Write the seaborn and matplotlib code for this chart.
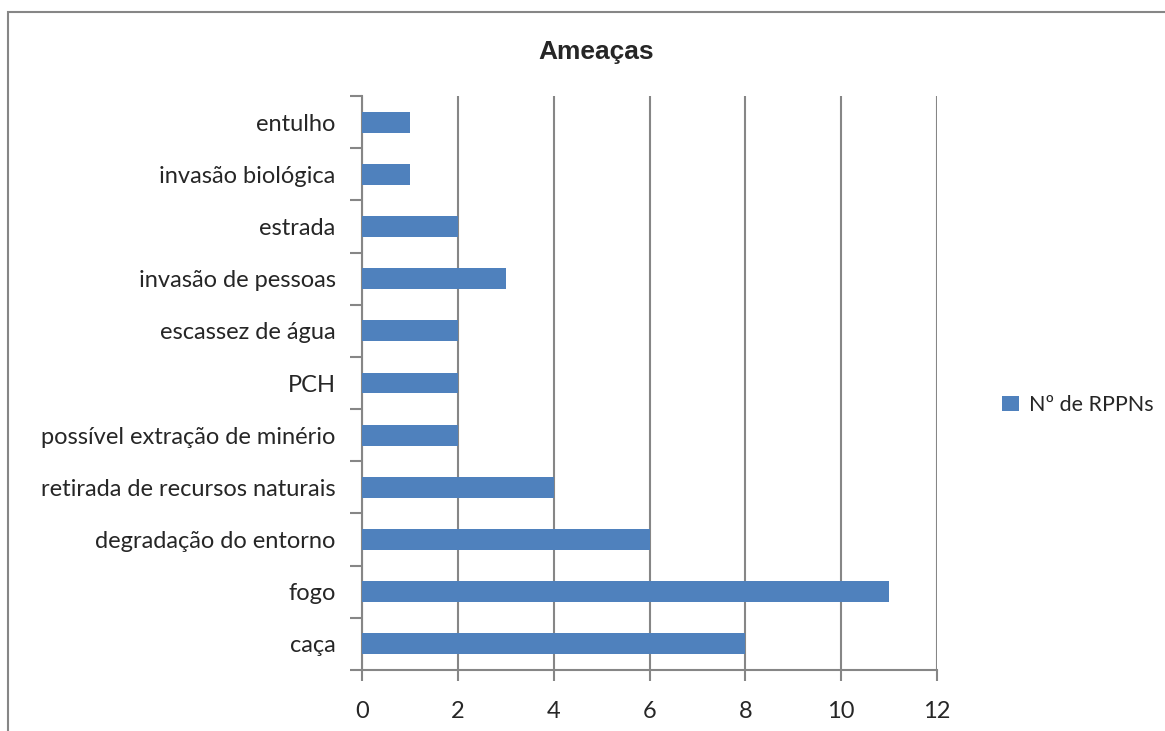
import numpy as np
import pandas as pd
import matplotlib.pyplot as plt
import seaborn as sns
from matplotlib.patches import Rectangle

# dados (de cima para baixo)
ameacas = ["entulho", "invasão biológica", "estrada", "invasão de pessoas",
           "escassez de água", "PCH", "possível extração de minério",
           "retirada de recursos naturais", "degradação do entorno", "fogo", "caça"]
n_rppns = [1, 1, 2, 3, 2, 2, 2, 4, 6, 11, 8]
x_ticks = [0, 2, 4, 6, 8, 10, 12]

df = pd.DataFrame({"Ameaça": ameacas, "Nº de RPPNs": n_rppns})

sns.set_style("white")
plt.rcParams['font.family'] = ['Lato', 'DejaVu Sans']

cinza = "#868686"
azul = "#4F81BD"

fig = plt.figure(figsize=(11.65, 7.31), dpi=100)
ax = fig.add_axes([362 / 1165, 1 - 670 / 731, (937 - 362) / 1165, (670 - 96) / 731])

sns.barplot(data=df, y="Ameaça", x="Nº de RPPNs", orient="h", color=azul,
            width=0.4, saturation=1, linewidth=0, ax=ax, label="Nº de RPPNs", zorder=3)

ax.set_xlim(0, 12)
ax.set_ylim(len(ameacas) - 0.5, -0.5)
ax.set_xticks(x_ticks)
ax.set_xticklabels([str(v) for v in x_ticks], fontsize=17)
ax.set_yticklabels(ameacas, fontsize=17)
ax.set_xlabel("")
ax.set_ylabel("")

# grade vertical
ax.grid(axis="x", color=cinza, linewidth=1.5, zorder=0)
ax.grid(axis="y", visible=False)

for s in ["top", "right"]:
    ax.spines[s].set_visible(False)
for s in ["left", "bottom"]:
    ax.spines[s].set_color(cinza)
    ax.spines[s].set_linewidth(1.5)

# marcas do eixo y nos limites das categorias
ax.set_yticks(np.arange(len(ameacas) + 1) - 0.5, minor=True)
ax.tick_params(axis="y", which="major", length=0, pad=19, left=False)
ax.tick_params(axis="y", which="minor", length=9, width=1.5, color=cinza,
               left=True, direction="out")
ax.tick_params(axis="x", which="major", length=8, width=1.5, color=cinza, pad=14,
               direction="out", bottom=True)

ax.set_title("Ameaças", fontsize=19, fontweight="bold", family="Liberation Sans",
             x=(596 - 362) / (937 - 362), y=1 + (96 - 50) / (670 - 96) - 0.03)

leg = ax.legend(loc="center left", bbox_to_anchor=(983 / 1165, 1 - 405 / 731),
                bbox_transform=fig.transFigure, frameon=False, fontsize=15.5,
                handlelength=0.75, handleheight=0.75, handletextpad=0.5)

# moldura do gráfico
fig.patches.append(Rectangle((8 / 1165, -0.1), 1.2, 1 - 12 / 731 + 0.1,
                             transform=fig.transFigure, fill=False,
                             edgecolor=cinza, linewidth=1.5))

fig.savefig("out.png", dpi=100)
